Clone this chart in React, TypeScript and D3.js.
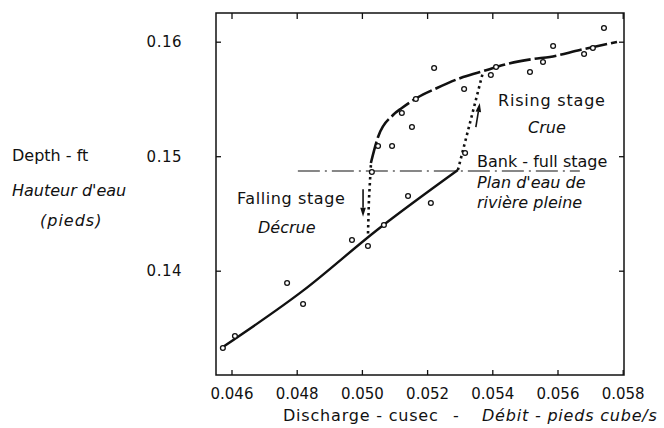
import React from 'react'
import * as d3 from 'd3'

// observed points (discharge in cusec, depth in ft)
const obsDischarge = [0.05741, 0.05585, 0.05554, 0.05514, 0.05707, 0.0568, 0.0541, 0.05394, 0.0522, 0.05312,
  0.05164, 0.05121, 0.05152, 0.05048, 0.05091, 0.05315, 0.05029, 0.0514, 0.0521, 0.05066,
  0.04968, 0.05017, 0.04769, 0.04818, 0.04609, 0.04572]
const obsDepth = [0.16124, 0.15967, 0.15827, 0.1574, 0.15949, 0.15897, 0.15783, 0.15714, 0.15775, 0.15591,
  0.15504, 0.15382, 0.15259, 0.15093, 0.15093, 0.15032, 0.14866, 0.14657, 0.14596, 0.14403,
  0.14272, 0.1422, 0.13897, 0.13714, 0.13434, 0.13329]

// rating curve below bank-full
const lowerQ = [0.04572, 0.04818, 0.05045, 0.05293]
const lowerH = [0.13338, 0.1383, 0.1436, 0.14884]

// rating curve above bank-full
const upperQ = [0.05026, 0.05048, 0.05094, 0.05121, 0.05167, 0.05229, 0.05309, 0.05382,
  0.05431, 0.05523, 0.05575, 0.05667, 0.05781]
const upperH = [0.14945, 0.15172, 0.15364, 0.15425, 0.15513, 0.156, 0.15696, 0.15757,
  0.15801, 0.15853, 0.15871, 0.15932, 0.16002]

// falling and rising stage transitions (dotted)
const fallingQ = [0.05026, 0.0502, 0.05017]
const fallingH = [0.14927, 0.1462, 0.14307]
const risingQ = [0.05293, 0.0537]
const risingH = [0.14884, 0.1574]

// bank-full stage (dash-dot)
const bankQ = [0.04802, 0.05667]
const bankH = [0.14875, 0.14875]

// arrows [from, to]
const fallArrowQ = [0.05002, 0.05002]
const fallArrowH = [0.14715, 0.14475]
const riseArrowQ = [0.05348, 0.0536]
const riseArrowH = [0.15259, 0.15469]

const xTicks = [0.046, 0.048, 0.05, 0.052, 0.054, 0.056, 0.058]
const yTicks = [0.14, 0.15, 0.16]

const W = 664
const H = 428
const frame = { left: 216, top: 13, right: 624, bottom: 375 }
const font = '"DejaVu Sans", sans-serif'

export default function App() {
  const x = d3.scaleLinear().domain([0.046, 0.058]).range([232, 623.2])
  const y = d3.scaleLinear().domain([0.14, 0.16]).range([271.2, 42.2])

  const pts = (qs: number[], hs: number[]) => qs.map((q, i) => [q, hs[i]] as [number, number])
  const straight = d3.line<[number, number]>().x(d => x(d[0])).y(d => y(d[1]))
  const smooth = d3.line<[number, number]>().x(d => x(d[0])).y(d => y(d[1])).curve(d3.curveMonotoneX)

  const arrow = (qs: number[], hs: number[], key: string) => {
    const x0 = x(qs[0]), y0 = y(hs[0]), x1 = x(qs[1]), y1 = y(hs[1])
    const ang = Math.atan2(y1 - y0, x1 - x0)
    const len = 9, half = 2.8
    const bx = x1 - len * Math.cos(ang), by = y1 - len * Math.sin(ang)
    const px = -Math.sin(ang) * half, py = Math.cos(ang) * half
    return (
      <g key={key}>
        <line x1={x0} y1={y0} x2={bx} y2={by} stroke="#111" strokeWidth={1.6} />
        <path d={`M${x1},${y1}L${bx + px},${by + py}L${bx - px},${by - py}Z`} fill="#111" />
      </g>
    )
  }

  const label = { fontFamily: font, fontSize: 16, fill: '#111' }
  const italic = { ...label, fontStyle: 'italic' as const }
  const axisTitle = { ...label, letterSpacing: 0.8 }

  return (
    <svg width={W} height={H} style={{ position: 'absolute', left: 0, top: 0, background: '#fff' }}>
      <rect x={frame.left} y={frame.top} width={frame.right - frame.left} height={frame.bottom - frame.top}
        fill="none" stroke="#111" strokeWidth={1.5} />

      {xTicks.map(t => (
        <g key={'x' + t}>
          <line x1={x(t)} x2={x(t)} y1={frame.bottom} y2={frame.bottom - 5} stroke="#111" strokeWidth={1.3} />
          <line x1={x(t)} x2={x(t)} y1={frame.top} y2={frame.top + 6} stroke="#111" strokeWidth={1.3} />
          <text x={x(t)} y={399} textAnchor="middle" fontFamily={font} fontSize={15} fill="#111">
            {d3.format('.3f')(t)}
          </text>
        </g>
      ))}
      {yTicks.map(t => (
        <g key={'y' + t}>
          <line x1={frame.left} x2={frame.left + 5} y1={y(t)} y2={y(t)} stroke="#111" strokeWidth={1.3} />
          <line x1={frame.right} x2={frame.right - 5} y1={y(t)} y2={y(t)} stroke="#111" strokeWidth={1.3} />
          <text x={182} y={y(t) + 5} textAnchor="end" fontFamily={font} fontSize={15} fill="#111" letterSpacing={0.5}>
            {d3.format('.2f')(t)}
          </text>
        </g>
      ))}

      <path d={straight(pts(bankQ, bankH)) || ''} fill="none" stroke="#111" strokeWidth={1.2}
        strokeDasharray="22,5,2,5" />
      <path d={smooth(pts(lowerQ, lowerH)) || ''} fill="none" stroke="#111" strokeWidth={2.4} />
      <path d={smooth(pts(upperQ, upperH)) || ''} fill="none" stroke="#111" strokeWidth={2.6}
        strokeDasharray="22,4" />
      <path d={straight(pts(fallingQ, fallingH)) || ''} fill="none" stroke="#111" strokeWidth={2.6}
        strokeDasharray="2.5,3.5" />
      <path d={straight(pts(risingQ, risingH)) || ''} fill="none" stroke="#111" strokeWidth={2.6}
        strokeDasharray="2.5,3.5" />

      {obsDischarge.map((q, i) => (
        <circle key={'o' + i} cx={x(q)} cy={y(obsDepth[i])} r={2.4} fill="#fff" stroke="#111" strokeWidth={1.3} />
      ))}

      {arrow(fallArrowQ, fallArrowH, 'fa')}
      {arrow(riseArrowQ, riseArrowH, 'ra')}

      <text x={498} y={106} {...label} letterSpacing={0.8}>Rising stage</text>
      <text x={528} y={133} {...italic}>Crue</text>
      <text x={477} y={167} {...label}>Bank - full stage</text>
      <text x={477} y={188} {...italic}>Plan d'eau de</text>
      <text x={477} y={208} {...italic}>rivière pleine</text>
      <text x={237} y={204} {...label} letterSpacing={0.6}>Falling stage</text>
      <text x={258} y={233} {...italic}>Décrue</text>

      <text x={12} y={161} {...label}>Depth - ft</text>
      <text x={12} y={196} {...italic}>Hauteur d'eau</text>
      <text x={40} y={226} {...italic} letterSpacing={1}>(pieds)</text>

      <text x={283} y={421} {...axisTitle}>Discharge - cusec</text>
      <text x={453} y={421} {...axisTitle}>-</text>
      <text x={482} y={421} {...axisTitle} fontStyle="italic">Débit - pieds cube/s</text>
    </svg>
  )
}
